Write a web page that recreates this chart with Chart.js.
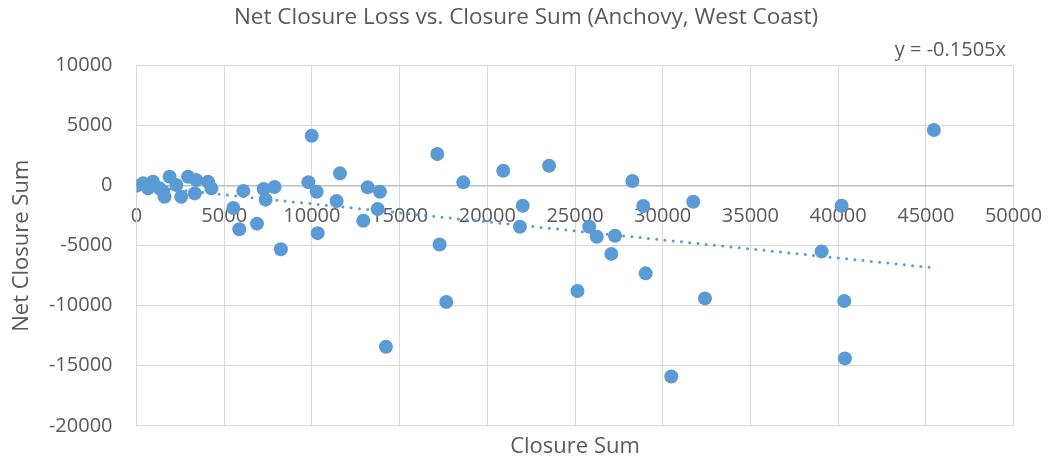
<!DOCTYPE html>
<html>
<head>
<meta charset="utf-8">
<script src="https://cdn.jsdelivr.net/npm/chart.js@4.4.1/dist/chart.umd.min.js"></script>
<style>
  html, body { margin: 0; padding: 0; background: #fff; }
  #wrap { width: 1052px; height: 465px; }
</style>
</head>
<body>
<div id="wrap"><canvas id="scatterChart"></canvas></div>
<script>
// values
const closureSum = [0, 370, 940, 655, 1320, 1890, 1600, 1500, 2270, 2550, 2940, 3410, 3320, 4080, 4270,
  5520, 5860, 6090, 6870, 7250, 7360, 7870, 8230, 9800, 9990, 10270, 10330, 11410, 11600, 12930,
  13180, 13750, 13880, 14220, 17150, 17280, 17660, 18630, 20910, 21860, 22020, 23520, 25140, 25810,
  26240, 27070, 27280, 28270, 28890, 29030, 30490, 31740, 32410, 39060, 40200, 40350, 40390, 45460];
const netClosure = [0, 200, 330, -220, -220, 750, -920, -450, 60, -920, 750, 475, -640, 330, -220,
  -1850, -3630, -430, -3160, -275, -1160, -100, -5290, 300, 4170, -500, -3950, -1275, 1030, -2915,
  -135, -1940, -500, -13415, 2640, -4900, -9680, 280, 1250, -3415, -1670, 1670, -8775, -3415,
  -4250, -5680, -4165, 390, -1690, -7300, -15890, -1330, -9385, -5470, -1670, -9610, -14385, 4640];
const trendSlope = -0.1505;
const trendLabel = 'y = -0.1505x';

const xTicks = { min: 0, max: 50000, step: 5000 };
const yTicks = { min: -20000, max: 10000, step: 5000 };

const blue = '#5b9bd5';
const textGray = '#595959';
const gridGray = '#d9d9d9';
const fontFam = "'Open Sans', sans-serif";

let points = closureSum.map((x, i) => ({ x: x, y: netClosure[i] }));
let minX = Math.min(...closureSum);
let maxX = Math.max(...closureSum);
let trend = [{ x: minX, y: trendSlope * minX }, { x: maxX, y: trendSlope * maxX }];

// plain numbers, no thousands separator
const plainTick = (v) => String(v);
// keep label overflow from shrinking the plot area
const noPad = (s) => { s.paddingLeft = 0; s.paddingRight = 0; s.paddingTop = 0; s.paddingBottom = 0; };

// writes the trendline equation in the upper right corner
const equationText = {
  id: 'equationText',
  afterDraw(chart) {
    const ctx = chart.ctx;
    ctx.save();
    ctx.font = "20px " + fontFam;
    ctx.fillStyle = textGray;
    ctx.textAlign = 'right';
    ctx.textBaseline = 'middle';
    ctx.fillText(trendLabel, 1006, 50);
    ctx.restore();
  }
};

let ctx = document.getElementById('scatterChart').getContext('2d');
let chart = new Chart(ctx, {
  type: 'scatter',
  data: {
    datasets: [{
      label: 'Net Closure Sum',
      data: points,
      backgroundColor: blue,
      borderColor: blue,
      borderWidth: 0,
      pointRadius: 7,
      pointHoverRadius: 7
    }, {
      label: 'Linear trend',
      data: trend,
      showLine: true,
      pointRadius: 0,
      borderColor: blue,
      borderWidth: 3,
      borderDash: [0, 8.3],
      borderCapStyle: 'round',
      fill: false
    }]
  },
  options: {
    responsive: true,
    maintainAspectRatio: false,
    animation: false,
    layout: { padding: 0 },
    plugins: {
      legend: { display: false },
      tooltip: { enabled: false },
      title: {
        display: true,
        text: 'Net Closure Loss vs. Closure Sum (Anchovy, West Coast)',
        color: textGray,
        font: { family: fontFam, size: 22.5, weight: 'normal' },
        padding: { top: 4.5, bottom: 34.2 }
      }
    },
    scales: {
      x: {
        type: 'linear',
        position: 'bottom',
        min: xTicks.min,
        max: xTicks.max,
        afterFit: noPad,
        ticks: { display: false, stepSize: xTicks.step },
        grid: { color: gridGray, drawTicks: false },
        border: { display: false },
        title: {
          display: true,
          text: 'Closure Sum',
          color: textGray,
          font: { family: fontFam, size: 22 },
          padding: { top: 8, bottom: 4.8 }
        }
      },
      x0: {
        type: 'linear',
        axis: 'x',
        position: { y: 0 },
        min: xTicks.min,
        max: xTicks.max,
        afterFit: noPad,
        ticks: {
          stepSize: xTicks.step,
          padding: 19,
          color: textGray,
          callback: plainTick,
          font: { family: fontFam, size: 20 }
        },
        grid: { display: false, drawTicks: false },
        border: { display: true, color: '#bfbfbf', width: 1.5 }
      },
      y: {
        type: 'linear',
        position: 'left',
        min: yTicks.min,
        max: yTicks.max,
        afterFit: (scale) => { noPad(scale); scale.width = 136.5; },
        ticks: {
          stepSize: yTicks.step,
          padding: 24,
          color: textGray,
          callback: plainTick,
          font: { family: fontFam, size: 20 }
        },
        grid: { color: gridGray, drawTicks: false },
        border: { display: true, color: gridGray },
        title: {
          display: true,
          text: 'Net Closure Sum',
          color: textGray,
          font: { family: fontFam, size: 22 },
          padding: { top: 9, bottom: 0 }
        }
      },
      // empty right axis, only holds the margin right of the plot
      yRight: {
        type: 'linear',
        axis: 'y',
        position: 'right',
        min: yTicks.min,
        max: yTicks.max,
        afterFit: (scale) => { noPad(scale); scale.width = 38.5; },
        ticks: { display: false },
        grid: { display: false, drawTicks: false },
        border: { display: false }
      }
    }
  },
  plugins: [equationText]
});
</script>
</body>
</html>
